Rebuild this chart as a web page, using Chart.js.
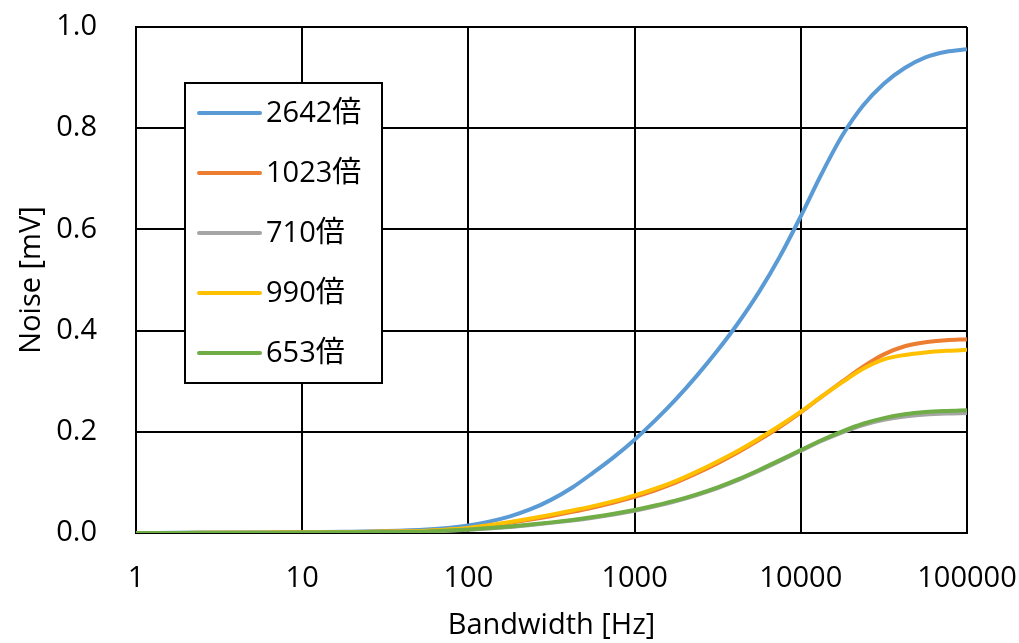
<!DOCTYPE html>
<html>
<head>
<meta charset="utf-8">
<script src="https://cdn.jsdelivr.net/npm/chart.js@4.4.1/dist/chart.umd.min.js"></script>
<style>
  html, body { margin: 0; padding: 0; background: #fff; }
  #wrap { width: 1019px; height: 643px; }
</style>
</head>
<body>
<div id="wrap"><canvas id="chart" width="1019" height="643"></canvas></div>
<script>
// Bandwidth sample points [Hz]
const bandwidthHz = [1, 1.78, 3.16, 5.62, 10, 17.8, 31.6, 56.2,
                     75, 100, 133, 178, 237, 316, 422, 562, 750,
                     1000, 1330, 1780, 2370, 3160, 4220, 5620, 7500,
                     10000, 13300, 17800, 23700, 31600, 42200, 56200, 75000, 100000];

// Integrated noise [mV] for each gain setting
const noise2642 = [0, 0.0003, 0.0006, 0.001, 0.0015, 0.0025, 0.004, 0.007,
                   0.010, 0.015, 0.0225, 0.033, 0.047, 0.066, 0.090, 0.119, 0.150,
                   0.1845, 0.2225, 0.265, 0.311, 0.361, 0.416, 0.477, 0.547,
                   0.626, 0.709, 0.786, 0.845, 0.888, 0.919, 0.940, 0.951, 0.956];
const noise1023 = [0, 0.0002, 0.0004, 0.0007, 0.001, 0.0017, 0.0027, 0.004,
                   0.0062, 0.009, 0.0143, 0.020, 0.0265, 0.0337, 0.0418, 0.0505, 0.0603,
                   0.0715, 0.0845, 0.100, 0.118, 0.138, 0.160, 0.184, 0.210,
                   0.2385, 0.269, 0.2995, 0.3285, 0.353, 0.369, 0.377, 0.381, 0.383];
const noise710  = [0, 0.0002, 0.0003, 0.0005, 0.0007, 0.0012, 0.0019, 0.003,
                   0.0045, 0.0065, 0.009, 0.012, 0.0158, 0.020, 0.0248, 0.0303, 0.0367,
                   0.0441, 0.0528, 0.063, 0.075, 0.0888, 0.105, 0.1231, 0.1425,
                   0.1625, 0.1818, 0.199, 0.2135, 0.2237, 0.2303, 0.234, 0.236, 0.237];
const noise990  = [0, 0.0002, 0.0004, 0.0007, 0.001, 0.0017, 0.0028, 0.0045,
                   0.0068, 0.010, 0.0156, 0.0219, 0.0288, 0.0363, 0.0444, 0.0531, 0.0631,
                   0.0744, 0.0875, 0.1031, 0.1213, 0.1413, 0.1631, 0.1869, 0.2125,
                   0.240, 0.2694, 0.2981, 0.3244, 0.3431, 0.3519, 0.3569, 0.360, 0.362];
const noise653  = [0, 0.0002, 0.0003, 0.0005, 0.0008, 0.0013, 0.002, 0.0032,
                   0.0048, 0.007, 0.00975, 0.013, 0.0168, 0.021, 0.0259, 0.0315, 0.038,
                   0.0455, 0.0543, 0.0645, 0.0765, 0.0903, 0.1065, 0.1246, 0.144,
                   0.164, 0.1834, 0.2009, 0.2159, 0.2271, 0.2346, 0.239, 0.2412, 0.2425];

const seriesLabels = ['2642倍', '1023倍', '710倍', '990倍', '653倍'];
const seriesValues = [noise2642, noise1023, noise710, noise990, noise653];
const seriesColors = ['#5B9BD5', '#ED7D31', '#A5A5A5', '#FFC000', '#70AD47'];

const xTickValues = [1, 10, 100, 1000, 10000, 100000];
const xTickLabels = ['1', '10', '100', '1000', '10000', '100000'];
const yTickValues = [0, 0.2, 0.4, 0.6, 0.8, 1.0];
const yTickLabels = ['0.0', '0.2', '0.4', '0.6', '0.8', '1.0'];

const FONT = '"Open Sans", "Noto Sans CJK JP", sans-serif';

const datasets = seriesLabels.map((label, i) => ({
  label,
  data: bandwidthHz.map((x, j) => ({ x, y: seriesValues[i][j] })),
  borderColor: seriesColors[i],
  backgroundColor: seriesColors[i],
  borderWidth: 4,
  pointRadius: 0,
  fill: false,
  cubicInterpolationMode: 'monotone',
  // later series are painted above earlier ones
  order: seriesLabels.length - i
}));

// white page behind the chart
const whiteBackground = {
  id: 'whiteBackground',
  beforeDraw(chart) {
    const c = chart.ctx;
    c.save();
    c.fillStyle = '#fff';
    c.fillRect(0, 0, chart.width, chart.height);
    c.restore();
  }
};

// boxed legend placed inside the plot area
const boxedLegend = {
  id: 'boxedLegend',
  afterDraw(chart) {
    const c = chart.ctx;
    const box = { x: 185, y: 83, w: 197, h: 300 };
    const rowTop = box.y + 30, rowGap = 60;
    c.save();
    c.fillStyle = '#fff';
    c.fillRect(box.x, box.y, box.w, box.h);
    c.strokeStyle = '#000';
    c.lineWidth = 2;
    c.strokeRect(box.x, box.y, box.w, box.h);
    c.font = '29px ' + FONT;
    c.textBaseline = 'middle';
    c.textAlign = 'left';
    chart.data.datasets.forEach((ds, i) => {
      const y = rowTop + i * rowGap;
      c.beginPath();
      c.strokeStyle = ds.borderColor;
      c.lineWidth = 4;
      c.lineCap = 'round';
      c.moveTo(199, y);
      c.lineTo(260, y);
      c.stroke();
      c.fillStyle = '#000';
      c.fillText(ds.label, 266, y + 1);
    });
    c.restore();
  }
};

new Chart(document.getElementById('chart'), {
  type: 'line',
  data: { datasets },
  plugins: [whiteBackground, boxedLegend],
  options: {
    responsive: false,
    animation: false,
    events: [],
    layout: { padding: { top: 27, right: 52, left: 0, bottom: 0 } },
    plugins: {
      legend: { display: false },
      tooltip: { enabled: false }
    },
    scales: {
      x: {
        type: 'logarithmic',
        min: 1,
        max: 100000,
        afterBuildTicks(scale) { scale.ticks = xTickValues.map(v => ({ value: v })); },
        afterFit(scale) {
          scale.height = 110;
          scale.paddingLeft = 0;
          scale.paddingRight = 0;
        },
        ticks: {
          autoSkip: false,
          maxRotation: 0,
          padding: 28,
          color: '#000',
          font: { family: FONT, size: 29 },
          callback: (v, i) => xTickLabels[i]
        },
        grid: { color: '#000', lineWidth: 2, drawTicks: false },
        border: { color: '#000', width: 2 },
        title: {
          display: true,
          text: 'Bandwidth [Hz]',
          color: '#000',
          font: { family: FONT, size: 29 },
          padding: { top: 0, bottom: 0 }
        }
      },
      y: {
        min: 0,
        max: 1,
        afterBuildTicks(scale) { scale.ticks = yTickValues.map(v => ({ value: v })); },
        afterFit(scale) {
          scale.width = 136;
          scale.paddingTop = 0;
          scale.paddingBottom = 0;
        },
        ticks: {
          padding: 39,
          color: '#000',
          font: { family: FONT, size: 29 },
          callback: (v, i) => yTickLabels[i]
        },
        grid: { color: '#000', lineWidth: 2, drawTicks: false },
        border: { color: '#000', width: 2 },
        title: {
          display: true,
          text: 'Noise [mV]',
          color: '#000',
          font: { family: FONT, size: 29 },
          padding: { top: 14, bottom: 0 }
        }
      }
    }
  }
});
</script>
</body>
</html>
